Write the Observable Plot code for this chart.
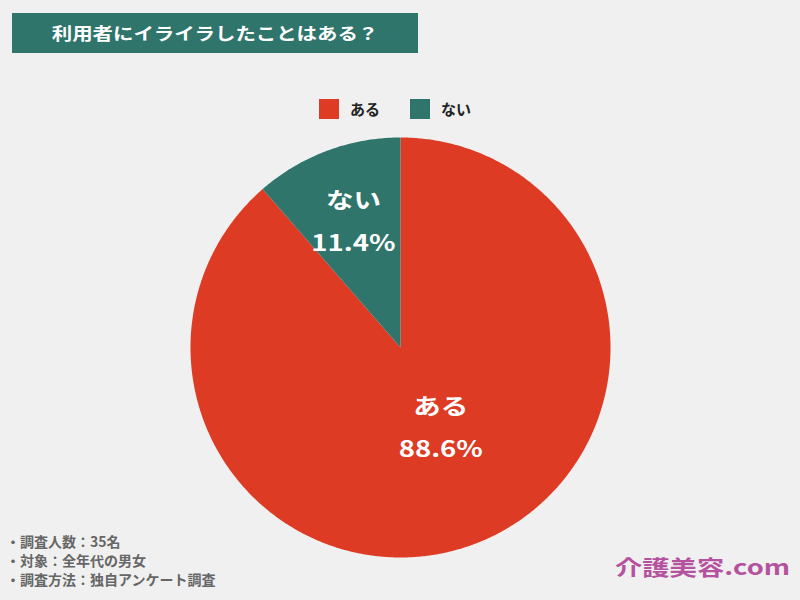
<!DOCTYPE html>
<html><head><meta charset="utf-8">
<script src="https://cdn.jsdelivr.net/npm/d3@7"></script>
<script src="https://cdn.jsdelivr.net/npm/@observablehq/plot@0.6"></script>
<style>
html,body{margin:0;padding:0;background:#f0f0f0;}
#wrap{position:relative;width:800px;height:600px;overflow:hidden;font-family:"Noto Sans CJK JP","Noto Sans",sans-serif;}
#title{position:absolute;left:12px;top:13px;width:406px;height:40px;background:#2f756b;}
#title span{position:absolute;left:0;width:406px;top:0;color:#fff;font-weight:bold;font-size:17px;line-height:40px;text-align:center;transform:scaleX(1.2);transform-origin:203px 50%;}
#legend{position:absolute;top:99px;left:319px;display:flex;align-items:center;font-weight:bold;font-size:15px;color:#222;}
.sw{width:20px;height:20px;display:inline-block;margin-right:11px;}
.item{display:flex;align-items:center;margin-right:30px;line-height:20px;}
#foot{position:absolute;left:6px;top:532px;font-size:14px;font-weight:bold;color:#666;line-height:19px;}
#mark{position:absolute;left:615px;top:552px;font-size:21px;font-weight:bold;color:#b5529f;line-height:28px;transform:scaleX(1.3);transform-origin:0 50%;white-space:nowrap;}
#chart{position:absolute;left:0;top:0;}
</style></head>
<body><div id="wrap"><div id="chart"></div>
<div id="title"><span></span></div><div id="legend"></div><div id="foot"></div><div id="mark"></div></div>
<script>
const titleText = "利用者にイライラしたことはある？";
const categories = ["ある", "ない"];
const values = [88.6, 11.4];
const colors = ["#dd3b24", "#2f756b"];
const footLines = ["・調査人数：35名", "・対象：全年代の男女", "・調査方法：独自アンケート調査"];
const sourceText = "介護美容.com";

document.querySelector("#title span").textContent = titleText;
document.getElementById("legend").innerHTML = categories.map((c, i) =>
  `<span class="item"><span class="sw" style="background:${colors[i]}"></span>${c}</span>`).join("");
document.getElementById("foot").innerHTML = footLines.join("<br>");
document.getElementById("mark").textContent = sourceText;

const arcs = d3.pie().sort(null).value(d => d.value)(categories.map((c, i) => ({key: c, value: values[i]})));
// sampled wedge outlines in unit coordinates
const wedgePts = [];
arcs.forEach(a => {
  const n = Math.max(4, Math.ceil((a.endAngle - a.startAngle) * 120));
  wedgePts.push({key: a.data.key, x: 0, y: 0});
  for (let k = 0; k <= n; k++) {
    const t = a.startAngle + (a.endAngle - a.startAngle) * k / n;
    wedgePts.push({key: a.data.key, x: Math.sin(t), y: Math.cos(t)});
  }
  wedgePts.push({key: a.data.key, x: 0, y: 0});
});
const labelR = [0.41, 0.64];
const labelShift = [0.048, 0];
const labels = arcs.map((a, i) => {
  const m = (a.startAngle + a.endAngle) / 2;
  return {text: a.data.key + "\n" + a.data.value.toFixed(1) + "%",
          x: Math.sin(m) * labelR[i] + labelShift[i], y: Math.cos(m) * labelR[i]};
});

const plot = Plot.plot({
  width: 800, height: 600,
  marginLeft: 190, marginRight: 190, marginTop: 137, marginBottom: 43,
  x: {domain: [-1, 1], axis: null},
  y: {domain: [-1, 1], axis: null},
  color: {domain: categories, range: colors},
  style: {background: "transparent", fontFamily: "'Noto Sans CJK JP', sans-serif"},
  marks: [
    Plot.line(wedgePts, {x: "x", y: "y", z: "key", fill: "key", stroke: "none", curve: "linear"}),
    Plot.text(labels, {x: "x", y: "y", text: "text", fill: "white", fontSize: 22, fontWeight: "bold", lineHeight: 1.95, dy: -6})
  ]
});
document.getElementById("chart").appendChild(plot);
// widen the slice labels like the reference's stretched lettering
d3.select(plot).selectAll("text").each(function() {
  const t = this.getAttribute("transform");
  if (t) this.setAttribute("transform", t + " scale(1.25,1)");
});
</script></body></html>
